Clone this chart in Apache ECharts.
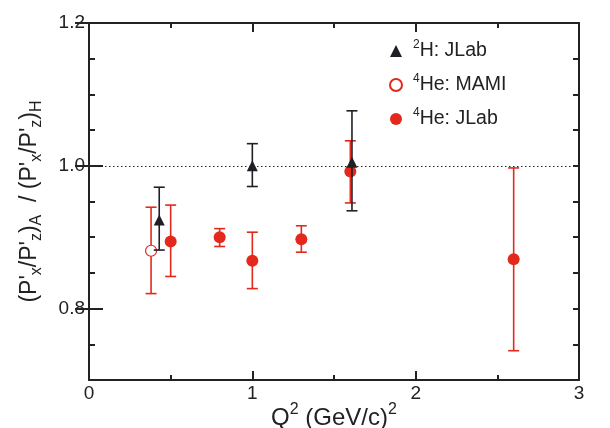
<!DOCTYPE html>
<html><head><meta charset="utf-8">
<script src="https://cdn.jsdelivr.net/npm/echarts@6/dist/echarts.min.js"></script>
<style>html,body{margin:0;padding:0;background:#fff}#c{width:610px;height:428px}</style>
</head><body><div id="c"></div>
<script>
// ---- data ----
const xTickValues = [0, 1, 2, 3];
const yTickLabels = [0.8, 1.0, 1.2];
const referenceLine = 1.0;

const h2JlabQ2 = [0.43, 1.00, 1.61];
const h2JlabRatio = [0.924, 1.000, 1.005];
const h2JlabLow = [0.882, 0.971, 0.937];
const h2JlabHigh = [0.970, 1.031, 1.077];

const he4MamiQ2 = [0.38];
const he4MamiRatio = [0.881];
const he4MamiLow = [0.821];
const he4MamiHigh = [0.942];

const he4JlabQ2 = [0.50, 0.80, 1.00, 1.30, 1.60, 2.60];
const he4JlabRatio = [0.894, 0.900, 0.867, 0.897, 0.992, 0.869];
const he4JlabLow = [0.845, 0.887, 0.828, 0.879, 0.948, 0.741];
const he4JlabHigh = [0.945, 0.912, 0.907, 0.916, 1.035, 0.997];

const seriesNames = ['2H: JLab', '4He: MAMI', '4He: JLab'];
const legendLabels = ['{sup|2}{t|H: JLab}', '{sup|4}{t|He: MAMI}', '{sup|4}{t|He: JLab}'];

// ---- chart ----
const FONT = '"Liberation Sans", Arial, sans-serif';
const AX = '#222';
const RED = '#e2291c';
const BLACK = '#1f1f26';

const pts = (xs, ys) => xs.map((x, i) => [x, ys[i]]);
const bars = (xs, lo, hi) => xs.map((x, i) => [x, lo[i], hi[i]]);

function errRender(color) {
  return function (params, api) {
    const x = api.value(0), lo = api.value(1), hi = api.value(2);
    const a = api.coord([x, lo]), b = api.coord([x, hi]);
    const w = 5.5;
    const style = { stroke: color, lineWidth: 1.6, fill: null };
    return { type: 'group', children: [
      { type: 'line', shape: { x1: a[0], y1: a[1], x2: b[0], y2: b[1] }, style },
      { type: 'line', shape: { x1: a[0] - w, y1: a[1], x2: a[0] + w, y2: a[1] }, style },
      { type: 'line', shape: { x1: b[0] - w, y1: b[1], x2: b[0] + w, y2: b[1] }, style }
    ]};
  };
}
function errSeries(name, data, color, z) {
  return { type: 'custom', name: name, data: data, z: z, silent: true,
    encode: { x: 0, y: [1, 2] }, renderItem: errRender(color) };
}

const axLine = { show: true, onZero: false, lineStyle: { color: AX, width: 2 } };
const xAxisBase = {
  type: 'value', min: 0, max: 3, interval: 1,
  axisLine: axLine,
  axisTick: { show: true, inside: true, length: 9, lineStyle: { color: AX, width: 2 } },
  minorTick: { show: true, splitNumber: 2, length: 5, lineStyle: { color: AX, width: 2 } },
  splitLine: { show: false }, minorSplitLine: { show: false }
};
const yMinor = {
  type: 'value', min: 0.7, max: 1.2, interval: 0.05,
  axisLine: axLine,
  axisTick: { show: true, inside: true, length: 6, lineStyle: { color: AX, width: 2 } },
  axisLabel: { show: false }, splitLine: { show: false }
};
const yMajor = {
  type: 'value', min: 0.7, max: 1.2, interval: 0.05,
  axisLine: { show: false },
  axisTick: { show: true, inside: true, length: 14, customValues: yTickLabels, lineStyle: { color: AX, width: 2 } },
  axisLabel: { show: false }, splitLine: { show: false }
};

const option = {
  animation: false,
  backgroundColor: '#fff',
  grid: { left: 89, right: 31, top: 23, bottom: 48, containLabel: false, outerBoundsMode: 'none' },
  xAxis: [
    Object.assign({}, xAxisBase, {
      position: 'bottom',
      axisLabel: { fontSize: 19, color: AX, fontFamily: FONT, margin: 4, customValues: xTickValues },
      name: '{m|Q}{s|2}{m| (GeV/c)}{s|2}', nameLocation: 'middle', nameGap: 22, nameMoveOverlap: false,
      nameTextStyle: { fontFamily: FONT, color: AX, rich: {
        m: { fontSize: 24, lineHeight: 28, fontFamily: FONT, color: AX, verticalAlign: 'bottom' },
        s: { fontSize: 16, lineHeight: 20, fontFamily: FONT, color: AX, verticalAlign: 'top' } } }
    }),
    Object.assign({}, xAxisBase, { position: 'top', axisLabel: { show: false } })
  ],
  yAxis: [
    Object.assign({}, yMinor, {
      position: 'left',
      axisLabel: { show: true, fontSize: 19, color: AX, fontFamily: FONT, margin: 4,
        customValues: yTickLabels, formatter: v => v.toFixed(1) },
      name: "{m|(P'}{s|x}{m|/P'}{s|z}{m|)}{s|A}{m|  / (P'}{s|x}{m|/P'}{s|z}{m|)}{s|H}",
      nameLocation: 'middle', nameRotate: 90, nameGap: 44, nameMoveOverlap: false,
      nameTextStyle: { fontFamily: FONT, color: AX, rich: {
        m: { fontSize: 23, lineHeight: 30, fontFamily: FONT, color: AX, verticalAlign: 'middle' },
        s: { fontSize: 16, lineHeight: 16, fontFamily: FONT, color: AX, verticalAlign: 'bottom' } } }
    }),
    Object.assign({}, yMajor, { position: 'left' }),
    Object.assign({}, yMinor, { position: 'right' }),
    Object.assign({}, yMajor, { position: 'right' })
  ],
  legend: {
    orient: 'vertical', left: 384, top: 34, itemWidth: 12, itemHeight: 12, itemGap: 12,
    data: seriesNames,
    formatter: name => legendLabels[seriesNames.indexOf(name)],
    textStyle: { color: AX, fontFamily: FONT, fontSize: 19.5, padding: [0, 0, 0, 6], rich: {
      sup: { fontSize: 12, lineHeight: 12, fontFamily: FONT, color: AX, verticalAlign: 'top' },
      t: { fontSize: 19.5, lineHeight: 24, fontFamily: FONT, color: AX } } }
  },
  series: [
    {
      type: 'line', name: 'ref', data: [], silent: true, z: 1,
      markLine: { silent: true, symbol: 'none', label: { show: false },
        lineStyle: { color: '#222', type: [1.5, 2.5], width: 1.2 },
        data: [{ yAxis: referenceLine }] }
    },
    errSeries('e-mami', bars(he4MamiQ2, he4MamiLow, he4MamiHigh), RED, 2),
    { type: 'scatter', name: seriesNames[1], data: pts(he4MamiQ2, he4MamiRatio), z: 3,
      symbol: 'circle', symbolSize: 11,
      itemStyle: { color: '#fff', borderColor: RED, borderWidth: 1.2, opacity: 1 } },
    errSeries('e-he4', bars(he4JlabQ2, he4JlabLow, he4JlabHigh), RED, 2),
    { type: 'scatter', name: seriesNames[2], data: pts(he4JlabQ2, he4JlabRatio), z: 3,
      symbol: 'circle', symbolSize: 12, itemStyle: { color: RED, opacity: 1 } },
    errSeries('e-h2', bars(h2JlabQ2, h2JlabLow, h2JlabHigh), BLACK, 4),
    { type: 'scatter', name: seriesNames[0], data: pts(h2JlabQ2, h2JlabRatio), z: 5,
      symbol: 'triangle', symbolSize: 11, itemStyle: { color: BLACK, opacity: 1 } }
  ]
};
const chart = echarts.init(document.getElementById('c'), null, { renderer: 'canvas' });
chart.setOption(option);
</script></body></html>
